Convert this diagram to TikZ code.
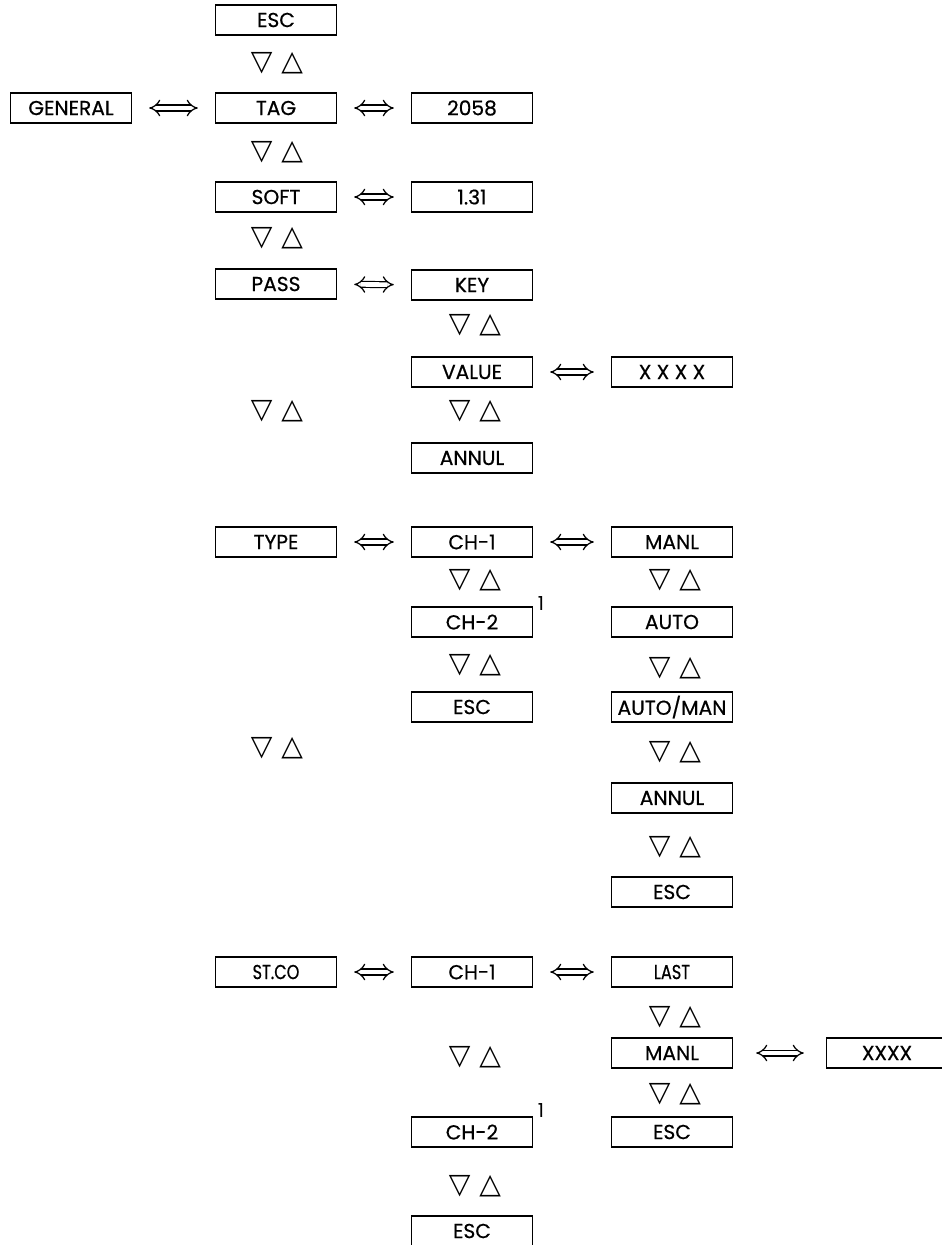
\documentclass[tikz,border=0pt]{standalone}
\usepackage{fontspec}
\setmainfont{Poppins}
\newfontfamily\symf{DejaVu Sans}
\usetikzlibrary{arrows.meta}
\begin{document}
\begin{tikzpicture}[x=.02cm,y=-.02cm,line width=.8pt,
  box/.style={draw,minimum width=2.42cm,minimum height=.6cm,inner sep=0pt,font=\fontsize{11.5}{13}\selectfont\addfontfeature{FakeBold=.6}},
  narrow/.style={font=\fontsize{11.5}{13}\selectfont\addfontfeature{FakeStretch=.8,FakeBold=.6}},
  updn/.style={font=\symf\fontsize{16}{16}\selectfont,inner sep=0pt},
  dbl/.style={double,double distance=2.6pt,line width=.7pt,{Implies[scale=1.4]}-{Implies[scale=1.4]},shorten <=.34cm,shorten >=.34cm},
  note/.style={font=\fontsize{11}{11}\selectfont,inner sep=0pt}]
\useasboundingbox (0,0) rectangle (942,1245);
% general / pass
\node[box] (esc) at (276,20) {ESC};
\node[box] (gen) at (71,108) {GENERAL};
\node[box] (tag) at (276,108) {TAG};
\node[box] (tagv) at (472,108) {2058};
\node[box] (soft) at (276,197) {SOFT};
\node[box] (softv) at (472,197) {1.31};
\node[box] (pass) at (276,284) {PASS};
\node[box] (key) at (472,285) {KEY};
\node[box] (val) at (472,372) {VALUE};
\node[box] (valx) at (672,372) {X X X X};
\node[box] (annul) at (472,458) {ANNUL};
% type
\node[box] (type) at (276,542) {TYPE};
\node[box] (tch1) at (472,542) {CH-1};
\node[box] (manl) at (672,542) {MANL};
\node[box] (tch2) at (472,622) {CH-2};
\node[box] (auto) at (672,622) {AUTO};
\node[box] (tesc) at (472,707) {ESC};
\node[box] (am) at (672,707) {AUTO/MAN};
\node[box] (mannul) at (672,798) {ANNUL};
\node[box] (mesc) at (672,892) {ESC};
\node[note] (n1) at (541,604) {1};
% st.co
\node[box,narrow] (stco) at (276,972) {ST.CO};
\node[box] (sch1) at (472,972) {CH-1};
\node[box,narrow] (last) at (672,972) {LAST};
\node[box] (smanl) at (672,1053) {MANL};
\node[box] (smanlv) at (887,1053) {XXXX};
\node[box] (sesc) at (672,1132) {ESC};
\node[box] (sch2) at (472,1132) {CH-2};
\node[box] (sesc2) at (472,1231) {ESC};
\node[note] (n2) at (541,1110) {1};
\foreach \x/\y [count=\i] in {277/63,277/152,277/238,475/325,277/411,475/411,
  475/580,675/580,475/665,675/668,277/748,675/752,675/847,
  675/1017,475/1057,675/1094,475/1186}
  \node[updn] (ud\i) at (\x,\y) {▽\hspace{5pt}△};
\foreach \a/\b in {gen/tag,tag/tagv,soft/softv,pass/key,val/valx,type/tch1,tch1/manl,stco/sch1,sch1/last}
  \draw[dbl] (\a) -- (\b);
\draw[dbl,shorten <=.46cm,shorten >=.44cm] (smanl) -- (smanlv);
\end{tikzpicture}
\end{document}
